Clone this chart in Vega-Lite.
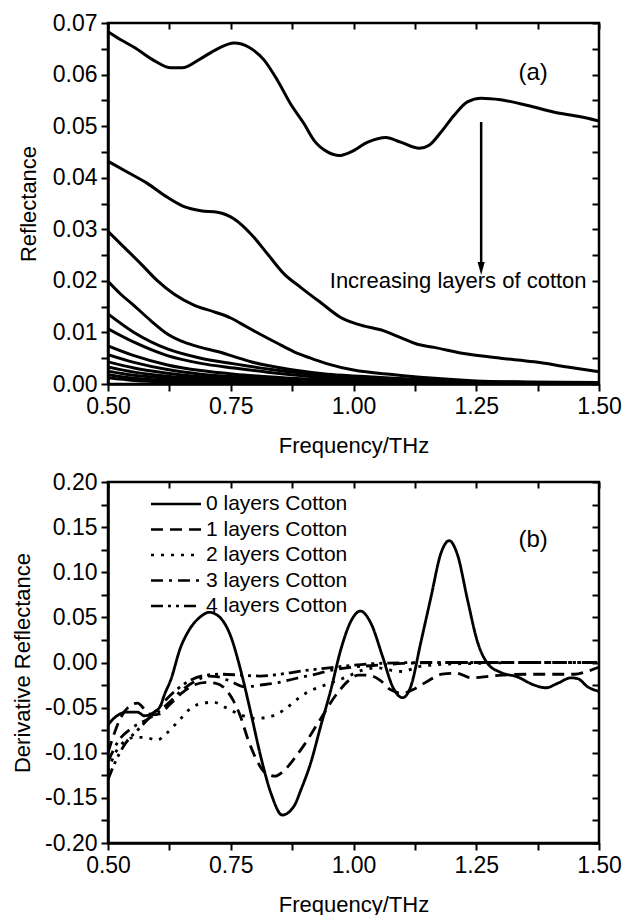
{
  "$schema": "https://vega.github.io/schema/vega-lite/v6.json",
  "background": "white",
  "padding": {"left": 10, "top": 10, "right": 22, "bottom": 4},
  "config": {
    "font": "Liberation Sans",
    "view": {"stroke": "black", "strokeWidth": 2.5},
    "axis": {
      "grid": false,
      "domainColor": "black",
      "domainWidth": 2.5,
      "tickColor": "black",
      "tickWidth": 2,
      "tickSize": 7,
      "labelColor": "black",
      "labelFontSize": 23,
      "labelPadding": 4,
      "labelFlush": false,
      "labelOverlap": false,
      "titleColor": "black",
      "titleFontSize": 22,
      "titleFontWeight": "normal"
    }
  },
  "datasets": {
    "reflectance": [
      {"n": 0, "f": 0.5, "R": 0.0683}, {"n": 0, "f": 0.525, "R": 0.0668}, {"n": 0, "f": 0.553, "R": 0.0653},
      {"n": 0, "f": 0.594, "R": 0.0627}, {"n": 0, "f": 0.628, "R": 0.0613}, {"n": 0, "f": 0.651, "R": 0.0613},
      {"n": 0, "f": 0.689, "R": 0.0631}, {"n": 0, "f": 0.723, "R": 0.065}, {"n": 0, "f": 0.757, "R": 0.0661},
      {"n": 0, "f": 0.787, "R": 0.0653}, {"n": 0, "f": 0.818, "R": 0.0628}, {"n": 0, "f": 0.845, "R": 0.0589},
      {"n": 0, "f": 0.872, "R": 0.0543}, {"n": 0, "f": 0.899, "R": 0.0505}, {"n": 0, "f": 0.92, "R": 0.0472},
      {"n": 0, "f": 0.947, "R": 0.045}, {"n": 0, "f": 0.971, "R": 0.0443}, {"n": 0, "f": 0.995, "R": 0.045},
      {"n": 0, "f": 1.029, "R": 0.0469}, {"n": 0, "f": 1.066, "R": 0.0478}, {"n": 0, "f": 1.096, "R": 0.0469},
      {"n": 0, "f": 1.134, "R": 0.0457}, {"n": 0, "f": 1.154, "R": 0.0463}, {"n": 0, "f": 1.178, "R": 0.0488},
      {"n": 0, "f": 1.205, "R": 0.0521}, {"n": 0, "f": 1.232, "R": 0.0547}, {"n": 0, "f": 1.26, "R": 0.0554},
      {"n": 0, "f": 1.3, "R": 0.0551}, {"n": 0, "f": 1.355, "R": 0.054}, {"n": 0, "f": 1.409, "R": 0.0527},
      {"n": 0, "f": 1.457, "R": 0.0519}, {"n": 0, "f": 1.5, "R": 0.051},

      {"n": 1, "f": 0.5, "R": 0.0432}, {"n": 1, "f": 0.539, "R": 0.0411}, {"n": 1, "f": 0.58, "R": 0.0389},
      {"n": 1, "f": 0.621, "R": 0.0362}, {"n": 1, "f": 0.655, "R": 0.0344}, {"n": 1, "f": 0.689, "R": 0.0336},
      {"n": 1, "f": 0.723, "R": 0.0333}, {"n": 1, "f": 0.757, "R": 0.032}, {"n": 1, "f": 0.791, "R": 0.0291},
      {"n": 1, "f": 0.825, "R": 0.0252}, {"n": 1, "f": 0.859, "R": 0.0213}, {"n": 1, "f": 0.893, "R": 0.0187},
      {"n": 1, "f": 0.933, "R": 0.0158}, {"n": 1, "f": 0.974, "R": 0.0129}, {"n": 1, "f": 1.008, "R": 0.0116},
      {"n": 1, "f": 1.062, "R": 0.0103}, {"n": 1, "f": 1.096, "R": 0.009}, {"n": 1, "f": 1.13, "R": 0.0077},
      {"n": 1, "f": 1.164, "R": 0.0071}, {"n": 1, "f": 1.232, "R": 0.0058}, {"n": 1, "f": 1.3, "R": 0.005},
      {"n": 1, "f": 1.368, "R": 0.0043}, {"n": 1, "f": 1.436, "R": 0.0033}, {"n": 1, "f": 1.5, "R": 0.0024},

      {"n": 2, "f": 0.5, "R": 0.0296}, {"n": 2, "f": 0.533, "R": 0.0265}, {"n": 2, "f": 0.567, "R": 0.0233},
      {"n": 2, "f": 0.601, "R": 0.02}, {"n": 2, "f": 0.635, "R": 0.0174}, {"n": 2, "f": 0.675, "R": 0.0153},
      {"n": 2, "f": 0.716, "R": 0.014}, {"n": 2, "f": 0.75, "R": 0.0128}, {"n": 2, "f": 0.784, "R": 0.011},
      {"n": 2, "f": 0.811, "R": 0.0096}, {"n": 2, "f": 0.845, "R": 0.0079}, {"n": 2, "f": 0.878, "R": 0.0063},
      {"n": 2, "f": 0.91, "R": 0.0051}, {"n": 2, "f": 0.947, "R": 0.0039}, {"n": 2, "f": 1.0, "R": 0.0027},
      {"n": 2, "f": 1.083, "R": 0.0018}, {"n": 2, "f": 1.15, "R": 0.0012}, {"n": 2, "f": 1.25, "R": 0.0006},
      {"n": 2, "f": 1.35, "R": 0.0004}, {"n": 2, "f": 1.5, "R": 0.0003},

      {"n": 3, "f": 0.5, "R": 0.0199}, {"n": 3, "f": 0.526, "R": 0.0174}, {"n": 3, "f": 0.553, "R": 0.0152},
      {"n": 3, "f": 0.587, "R": 0.0123}, {"n": 3, "f": 0.621, "R": 0.0097}, {"n": 3, "f": 0.655, "R": 0.0081},
      {"n": 3, "f": 0.689, "R": 0.0071}, {"n": 3, "f": 0.723, "R": 0.0063}, {"n": 3, "f": 0.757, "R": 0.0053},
      {"n": 3, "f": 0.791, "R": 0.0043}, {"n": 3, "f": 0.831, "R": 0.0035}, {"n": 3, "f": 0.878, "R": 0.0027},
      {"n": 3, "f": 0.947, "R": 0.0019}, {"n": 3, "f": 1.015, "R": 0.0015}, {"n": 3, "f": 1.083, "R": 0.0011},
      {"n": 3, "f": 1.15, "R": 0.0008}, {"n": 3, "f": 1.218, "R": 0.0005}, {"n": 3, "f": 1.354, "R": 0.0003},
      {"n": 3, "f": 1.5, "R": 0.0002},

      {"n": 4, "f": 0.5, "R": 0.0136}, {"n": 4, "f": 0.553, "R": 0.01}, {"n": 4, "f": 0.621, "R": 0.0068},
      {"n": 4, "f": 0.689, "R": 0.005}, {"n": 4, "f": 0.757, "R": 0.0039}, {"n": 4, "f": 0.825, "R": 0.0029},
      {"n": 4, "f": 1.0, "R": 0.0012}, {"n": 4, "f": 1.25, "R": 0.0004}, {"n": 4, "f": 1.5, "R": 0.0002},

      {"n": 5, "f": 0.5, "R": 0.0107}, {"n": 5, "f": 0.553, "R": 0.0081}, {"n": 5, "f": 0.621, "R": 0.0055},
      {"n": 5, "f": 0.689, "R": 0.004}, {"n": 5, "f": 0.757, "R": 0.0031}, {"n": 5, "f": 0.825, "R": 0.0023},
      {"n": 5, "f": 1.0, "R": 0.0009}, {"n": 5, "f": 1.25, "R": 0.0003}, {"n": 5, "f": 1.5, "R": 0.0001},

      {"n": 6, "f": 0.5, "R": 0.0074}, {"n": 6, "f": 0.553, "R": 0.0055}, {"n": 6, "f": 0.621, "R": 0.0037},
      {"n": 6, "f": 0.689, "R": 0.0026}, {"n": 6, "f": 0.757, "R": 0.0019}, {"n": 6, "f": 0.825, "R": 0.0014},
      {"n": 6, "f": 1.0, "R": 0.0006}, {"n": 6, "f": 1.25, "R": 0.0002}, {"n": 6, "f": 1.5, "R": 0.0001},

      {"n": 7, "f": 0.5, "R": 0.0057}, {"n": 7, "f": 0.553, "R": 0.0042}, {"n": 7, "f": 0.621, "R": 0.0028},
      {"n": 7, "f": 0.689, "R": 0.0019}, {"n": 7, "f": 0.757, "R": 0.0014}, {"n": 7, "f": 0.825, "R": 0.001},
      {"n": 7, "f": 1.0, "R": 0.0004}, {"n": 7, "f": 1.25, "R": 0.0002}, {"n": 7, "f": 1.5, "R": 0.0001},

      {"n": 8, "f": 0.5, "R": 0.0043}, {"n": 8, "f": 0.553, "R": 0.0031}, {"n": 8, "f": 0.621, "R": 0.0021},
      {"n": 8, "f": 0.689, "R": 0.0014}, {"n": 8, "f": 0.757, "R": 0.001}, {"n": 8, "f": 0.825, "R": 0.0007},
      {"n": 8, "f": 1.0, "R": 0.0003}, {"n": 8, "f": 1.25, "R": 0.0001}, {"n": 8, "f": 1.5, "R": 0.0},

      {"n": 9, "f": 0.5, "R": 0.0033}, {"n": 9, "f": 0.553, "R": 0.0023}, {"n": 9, "f": 0.621, "R": 0.0015},
      {"n": 9, "f": 0.689, "R": 0.001}, {"n": 9, "f": 0.757, "R": 0.0007}, {"n": 9, "f": 0.825, "R": 0.0005},
      {"n": 9, "f": 1.0, "R": 0.0002}, {"n": 9, "f": 1.25, "R": 0.0001}, {"n": 9, "f": 1.5, "R": 0.0},

      {"n": 10, "f": 0.5, "R": 0.0025}, {"n": 10, "f": 0.553, "R": 0.0017}, {"n": 10, "f": 0.621, "R": 0.0011},
      {"n": 10, "f": 0.689, "R": 0.0007}, {"n": 10, "f": 0.757, "R": 0.0005}, {"n": 10, "f": 0.825, "R": 0.0003},
      {"n": 10, "f": 1.0, "R": 0.0001}, {"n": 10, "f": 1.25, "R": 0.0}, {"n": 10, "f": 1.5, "R": 0.0},

      {"n": 11, "f": 0.5, "R": 0.0018}, {"n": 11, "f": 0.553, "R": 0.0011}, {"n": 11, "f": 0.621, "R": 0.0007},
      {"n": 11, "f": 0.689, "R": 0.0005}, {"n": 11, "f": 0.757, "R": 0.0003}, {"n": 11, "f": 0.825, "R": 0.0002},
      {"n": 11, "f": 1.0, "R": 0.0001}, {"n": 11, "f": 1.25, "R": 0.0}, {"n": 11, "f": 1.5, "R": 0.0},

      {"n": 12, "f": 0.5, "R": 0.0012}, {"n": 12, "f": 0.553, "R": 0.0007}, {"n": 12, "f": 0.621, "R": 0.0004},
      {"n": 12, "f": 0.689, "R": 0.0003}, {"n": 12, "f": 0.757, "R": 0.0002}, {"n": 12, "f": 0.825, "R": 0.0001},
      {"n": 12, "f": 1.0, "R": 0.0}, {"n": 12, "f": 1.25, "R": 0.0}, {"n": 12, "f": 1.5, "R": 0.0}
    ],
    "derivative": [
      {"series": "0 layers Cotton", "f": 0.5, "D": -0.069}, {"series": "0 layers Cotton", "f": 0.516, "D": -0.06},
      {"series": "0 layers Cotton", "f": 0.539, "D": -0.055}, {"series": "0 layers Cotton", "f": 0.56, "D": -0.055},
      {"series": "0 layers Cotton", "f": 0.574, "D": -0.059}, {"series": "0 layers Cotton", "f": 0.594, "D": -0.055},
      {"series": "0 layers Cotton", "f": 0.607, "D": -0.048}, {"series": "0 layers Cotton", "f": 0.614, "D": -0.037},
      {"series": "0 layers Cotton", "f": 0.628, "D": -0.019}, {"series": "0 layers Cotton", "f": 0.648, "D": 0.017},
      {"series": "0 layers Cotton", "f": 0.662, "D": 0.033}, {"series": "0 layers Cotton", "f": 0.689, "D": 0.051},
      {"series": "0 layers Cotton", "f": 0.706, "D": 0.0556}, {"series": "0 layers Cotton", "f": 0.726, "D": 0.051},
      {"series": "0 layers Cotton", "f": 0.75, "D": 0.029}, {"series": "0 layers Cotton", "f": 0.77, "D": -0.008},
      {"series": "0 layers Cotton", "f": 0.791, "D": -0.056}, {"series": "0 layers Cotton", "f": 0.811, "D": -0.104},
      {"series": "0 layers Cotton", "f": 0.832, "D": -0.145}, {"series": "0 layers Cotton", "f": 0.855, "D": -0.169},
      {"series": "0 layers Cotton", "f": 0.879, "D": -0.159}, {"series": "0 layers Cotton", "f": 0.893, "D": -0.141},
      {"series": "0 layers Cotton", "f": 0.913, "D": -0.111}, {"series": "0 layers Cotton", "f": 0.933, "D": -0.071},
      {"series": "0 layers Cotton", "f": 0.954, "D": -0.03}, {"series": "0 layers Cotton", "f": 0.974, "D": 0.014},
      {"series": "0 layers Cotton", "f": 0.995, "D": 0.046}, {"series": "0 layers Cotton", "f": 1.014, "D": 0.057},
      {"series": "0 layers Cotton", "f": 1.035, "D": 0.044}, {"series": "0 layers Cotton", "f": 1.059, "D": 0.007},
      {"series": "0 layers Cotton", "f": 1.079, "D": -0.026}, {"series": "0 layers Cotton", "f": 1.1, "D": -0.039},
      {"series": "0 layers Cotton", "f": 1.117, "D": -0.026}, {"series": "0 layers Cotton", "f": 1.137, "D": 0.022},
      {"series": "0 layers Cotton", "f": 1.158, "D": 0.073}, {"series": "0 layers Cotton", "f": 1.178, "D": 0.121},
      {"series": "0 layers Cotton", "f": 1.195, "D": 0.135}, {"series": "0 layers Cotton", "f": 1.212, "D": 0.119},
      {"series": "0 layers Cotton", "f": 1.232, "D": 0.07}, {"series": "0 layers Cotton", "f": 1.253, "D": 0.022},
      {"series": "0 layers Cotton", "f": 1.273, "D": -0.001}, {"series": "0 layers Cotton", "f": 1.3, "D": -0.011},
      {"series": "0 layers Cotton", "f": 1.334, "D": -0.016}, {"series": "0 layers Cotton", "f": 1.368, "D": -0.025},
      {"series": "0 layers Cotton", "f": 1.392, "D": -0.028}, {"series": "0 layers Cotton", "f": 1.416, "D": -0.023},
      {"series": "0 layers Cotton", "f": 1.443, "D": -0.017}, {"series": "0 layers Cotton", "f": 1.457, "D": -0.018},
      {"series": "0 layers Cotton", "f": 1.477, "D": -0.027}, {"series": "0 layers Cotton", "f": 1.5, "D": -0.032},

      {"series": "1 layers Cotton", "f": 0.5, "D": -0.1}, {"series": "1 layers Cotton", "f": 0.51, "D": -0.083},
      {"series": "1 layers Cotton", "f": 0.525, "D": -0.062}, {"series": "1 layers Cotton", "f": 0.545, "D": -0.048},
      {"series": "1 layers Cotton", "f": 0.56, "D": -0.045}, {"series": "1 layers Cotton", "f": 0.575, "D": -0.052},
      {"series": "1 layers Cotton", "f": 0.59, "D": -0.058}, {"series": "1 layers Cotton", "f": 0.605, "D": -0.057},
      {"series": "1 layers Cotton", "f": 0.625, "D": -0.047}, {"series": "1 layers Cotton", "f": 0.65, "D": -0.034},
      {"series": "1 layers Cotton", "f": 0.675, "D": -0.025}, {"series": "1 layers Cotton", "f": 0.7, "D": -0.022},
      {"series": "1 layers Cotton", "f": 0.72, "D": -0.023}, {"series": "1 layers Cotton", "f": 0.74, "D": -0.03},
      {"series": "1 layers Cotton", "f": 0.755, "D": -0.042}, {"series": "1 layers Cotton", "f": 0.77, "D": -0.06},
      {"series": "1 layers Cotton", "f": 0.785, "D": -0.085}, {"series": "1 layers Cotton", "f": 0.8, "D": -0.105},
      {"series": "1 layers Cotton", "f": 0.82, "D": -0.122}, {"series": "1 layers Cotton", "f": 0.84, "D": -0.126},
      {"series": "1 layers Cotton", "f": 0.86, "D": -0.119}, {"series": "1 layers Cotton", "f": 0.88, "D": -0.106},
      {"series": "1 layers Cotton", "f": 0.9, "D": -0.091}, {"series": "1 layers Cotton", "f": 0.93, "D": -0.065},
      {"series": "1 layers Cotton", "f": 0.967, "D": -0.034}, {"series": "1 layers Cotton", "f": 0.99, "D": -0.02},
      {"series": "1 layers Cotton", "f": 1.01, "D": -0.014}, {"series": "1 layers Cotton", "f": 1.03, "D": -0.014},
      {"series": "1 layers Cotton", "f": 1.055, "D": -0.02}, {"series": "1 layers Cotton", "f": 1.075, "D": -0.03},
      {"series": "1 layers Cotton", "f": 1.1, "D": -0.034}, {"series": "1 layers Cotton", "f": 1.125, "D": -0.029},
      {"series": "1 layers Cotton", "f": 1.15, "D": -0.021}, {"series": "1 layers Cotton", "f": 1.18, "D": -0.013},
      {"series": "1 layers Cotton", "f": 1.21, "D": -0.012}, {"series": "1 layers Cotton", "f": 1.24, "D": -0.017},
      {"series": "1 layers Cotton", "f": 1.28, "D": -0.015}, {"series": "1 layers Cotton", "f": 1.35, "D": -0.013},
      {"series": "1 layers Cotton", "f": 1.45, "D": -0.013}, {"series": "1 layers Cotton", "f": 1.475, "D": -0.01},
      {"series": "1 layers Cotton", "f": 1.5, "D": -0.005},

      {"series": "2 layers Cotton", "f": 0.5, "D": -0.12}, {"series": "2 layers Cotton", "f": 0.515, "D": -0.1},
      {"series": "2 layers Cotton", "f": 0.535, "D": -0.087}, {"series": "2 layers Cotton", "f": 0.555, "D": -0.083},
      {"series": "2 layers Cotton", "f": 0.575, "D": -0.083}, {"series": "2 layers Cotton", "f": 0.6, "D": -0.086},
      {"series": "2 layers Cotton", "f": 0.62, "D": -0.078}, {"series": "2 layers Cotton", "f": 0.645, "D": -0.064},
      {"series": "2 layers Cotton", "f": 0.67, "D": -0.05}, {"series": "2 layers Cotton", "f": 0.695, "D": -0.045},
      {"series": "2 layers Cotton", "f": 0.715, "D": -0.044}, {"series": "2 layers Cotton", "f": 0.74, "D": -0.05},
      {"series": "2 layers Cotton", "f": 0.77, "D": -0.058}, {"series": "2 layers Cotton", "f": 0.8, "D": -0.062},
      {"series": "2 layers Cotton", "f": 0.83, "D": -0.06}, {"series": "2 layers Cotton", "f": 0.86, "D": -0.052},
      {"series": "2 layers Cotton", "f": 0.88, "D": -0.043}, {"series": "2 layers Cotton", "f": 0.906, "D": -0.033},
      {"series": "2 layers Cotton", "f": 0.937, "D": -0.026}, {"series": "2 layers Cotton", "f": 0.967, "D": -0.02},
      {"series": "2 layers Cotton", "f": 0.99, "D": -0.015}, {"series": "2 layers Cotton", "f": 1.015, "D": -0.009},
      {"series": "2 layers Cotton", "f": 1.05, "D": -0.006}, {"series": "2 layers Cotton", "f": 1.08, "D": -0.009},
      {"series": "2 layers Cotton", "f": 1.1, "D": -0.01}, {"series": "2 layers Cotton", "f": 1.13, "D": -0.005},
      {"series": "2 layers Cotton", "f": 1.18, "D": -0.002}, {"series": "2 layers Cotton", "f": 1.25, "D": -0.001},
      {"series": "2 layers Cotton", "f": 1.35, "D": 0.0}, {"series": "2 layers Cotton", "f": 1.5, "D": 0.0},

      {"series": "3 layers Cotton", "f": 0.5, "D": -0.11}, {"series": "3 layers Cotton", "f": 0.52, "D": -0.088},
      {"series": "3 layers Cotton", "f": 0.55, "D": -0.072}, {"series": "3 layers Cotton", "f": 0.58, "D": -0.063},
      {"series": "3 layers Cotton", "f": 0.6, "D": -0.056}, {"series": "3 layers Cotton", "f": 0.625, "D": -0.044},
      {"series": "3 layers Cotton", "f": 0.65, "D": -0.031}, {"series": "3 layers Cotton", "f": 0.68, "D": -0.02},
      {"series": "3 layers Cotton", "f": 0.705, "D": -0.015}, {"series": "3 layers Cotton", "f": 0.725, "D": -0.016},
      {"series": "3 layers Cotton", "f": 0.75, "D": -0.021}, {"series": "3 layers Cotton", "f": 0.78, "D": -0.027},
      {"series": "3 layers Cotton", "f": 0.81, "D": -0.025}, {"series": "3 layers Cotton", "f": 0.84, "D": -0.023},
      {"series": "3 layers Cotton", "f": 0.88, "D": -0.018}, {"series": "3 layers Cotton", "f": 0.93, "D": -0.012},
      {"series": "3 layers Cotton", "f": 0.96, "D": -0.008}, {"series": "3 layers Cotton", "f": 1.0, "D": -0.005},
      {"series": "3 layers Cotton", "f": 1.05, "D": -0.003}, {"series": "3 layers Cotton", "f": 1.1, "D": -0.001},
      {"series": "3 layers Cotton", "f": 1.2, "D": 0.0}, {"series": "3 layers Cotton", "f": 1.5, "D": 0.0},

      {"series": "4 layers Cotton", "f": 0.5, "D": -0.13}, {"series": "4 layers Cotton", "f": 0.515, "D": -0.11},
      {"series": "4 layers Cotton", "f": 0.535, "D": -0.09}, {"series": "4 layers Cotton", "f": 0.56, "D": -0.075},
      {"series": "4 layers Cotton", "f": 0.59, "D": -0.058}, {"series": "4 layers Cotton", "f": 0.615, "D": -0.043},
      {"series": "4 layers Cotton", "f": 0.64, "D": -0.03}, {"series": "4 layers Cotton", "f": 0.67, "D": -0.019},
      {"series": "4 layers Cotton", "f": 0.7, "D": -0.014}, {"series": "4 layers Cotton", "f": 0.73, "D": -0.013},
      {"series": "4 layers Cotton", "f": 0.77, "D": -0.014}, {"series": "4 layers Cotton", "f": 0.81, "D": -0.015},
      {"series": "4 layers Cotton", "f": 0.85, "D": -0.013}, {"series": "4 layers Cotton", "f": 0.9, "D": -0.009},
      {"series": "4 layers Cotton", "f": 0.95, "D": -0.006}, {"series": "4 layers Cotton", "f": 1.0, "D": -0.003},
      {"series": "4 layers Cotton", "f": 1.05, "D": -0.001}, {"series": "4 layers Cotton", "f": 1.15, "D": 0.0},
      {"series": "4 layers Cotton", "f": 1.5, "D": 0.0}
    ]
  },
  "spacing": 11,
  "resolve": {"legend": {"strokeDash": "independent"}},
  "vconcat": [
    {
      "width": 491,
      "height": 361,
      "layer": [
        {
          "data": {"name": "reflectance"},
          "mark": {"type": "line", "interpolate": "monotone", "stroke": "black", "strokeWidth": 3, "clip": true},
          "encoding": {
            "x": {
              "field": "f", "type": "quantitative",
              "scale": {"domain": [0.5, 1.5], "nice": false, "zero": false},
              "axis": {
                "orient": "bottom", "title": "Frequency/THz", "titlePadding": 17,
                "values": [0.5, 0.625, 0.75, 0.875, 1, 1.125, 1.25, 1.375, 1.5],
                "labelExpr": "abs(datum.value*4 - round(datum.value*4)) < 0.001 ? format(datum.value, '.2f') : ''"
              }
            },
            "y": {
              "field": "R", "type": "quantitative",
              "scale": {"domain": [0, 0.07], "nice": false, "zero": false},
              "axis": {
                "orient": "left", "title": "Reflectance", "titlePadding": 12,
                "values": [0, 0.005, 0.01, 0.015, 0.02, 0.025, 0.03, 0.035, 0.04, 0.045, 0.05, 0.055, 0.06, 0.065, 0.07],
                "labelExpr": "abs(datum.value*100 - round(datum.value*100)) < 0.001 ? format(datum.value, '.2f') : ''"
              }
            },
            "detail": {"field": "n", "type": "nominal"}
          }
        },
        {
          "data": {"values": [{"f": 1.26, "top": 0.0508, "bottom": 0.0232}]},
          "mark": {"type": "rule", "stroke": "black", "strokeWidth": 2.5},
          "encoding": {
            "x": {"field": "f", "type": "quantitative", "axis": null},
            "y": {"field": "top", "type": "quantitative", "axis": null},
            "y2": {"field": "bottom"}
          }
        },
        {
          "data": {"values": [{"f": 1.26, "tip": 0.0224}]},
          "mark": {"type": "point", "shape": "M-0.55,-1L0.55,-1L0,1Z", "size": 170, "filled": true, "fill": "black", "stroke": null, "opacity": 1},
          "encoding": {
            "x": {"field": "f", "type": "quantitative", "axis": null},
            "y": {"field": "tip", "type": "quantitative", "axis": null}
          }
        },
        {
          "data": {"values": [{"f": 1.2132, "R": 0.0186, "label": "Increasing layers of cotton"}]},
          "mark": {"type": "text", "fontSize": 22, "align": "center", "baseline": "alphabetic", "color": "black"},
          "encoding": {
            "x": {"field": "f", "type": "quantitative", "axis": null},
            "y": {"field": "R", "type": "quantitative", "axis": null},
            "text": {"field": "label"}
          }
        },
        {
          "data": {"values": [{"f": 1.366, "R": 0.0589, "label": "(a)"}]},
          "mark": {"type": "text", "fontSize": 24, "align": "center", "baseline": "alphabetic", "color": "black"},
          "encoding": {
            "x": {
              "field": "f", "type": "quantitative",
              "axis": {"orient": "top", "title": null, "labels": false, "domain": false, "tickSize": -6,
                       "values": [0.5, 0.625, 0.75, 0.875, 1, 1.125, 1.25, 1.375, 1.5]}
            },
            "y": {
              "field": "R", "type": "quantitative",
              "axis": {"orient": "right", "title": null, "labels": false, "domain": false, "tickSize": -7,
                       "values": [0, 0.005, 0.01, 0.015, 0.02, 0.025, 0.03, 0.035, 0.04, 0.045, 0.05, 0.055, 0.06, 0.065, 0.07]}
            },
            "text": {"field": "label"}
          }
        }
      ],
      "resolve": {"axis": {"x": "independent", "y": "independent"}}
    },
    {
      "width": 491,
      "height": 361,
      "layer": [
        {
          "data": {"name": "derivative"},
          "mark": {"type": "line", "interpolate": "monotone", "stroke": "black", "strokeWidth": 2.8, "clip": true},
          "encoding": {
            "x": {
              "field": "f", "type": "quantitative",
              "scale": {"domain": [0.5, 1.5], "nice": false, "zero": false},
              "axis": {
                "orient": "bottom", "title": "Frequency/THz", "titlePadding": 17,
                "values": [0.5, 0.625, 0.75, 0.875, 1, 1.125, 1.25, 1.375, 1.5],
                "labelExpr": "abs(datum.value*4 - round(datum.value*4)) < 0.001 ? format(datum.value, '.2f') : ''"
              }
            },
            "y": {
              "field": "D", "type": "quantitative",
              "scale": {"domain": [-0.2, 0.2], "nice": false, "zero": false},
              "axis": {
                "orient": "left", "title": "Derivative Reflectance", "titlePadding": 10,
                "values": [-0.2, -0.175, -0.15, -0.125, -0.1, -0.075, -0.05, -0.025, 0, 0.025, 0.05, 0.075, 0.1, 0.125, 0.15, 0.175, 0.2],
                "labelExpr": "abs(datum.value*20 - round(datum.value*20)) < 0.001 ? replace(format(datum.value, '.2f'), '\u2212', '-') : ''"
              }
            },
            "strokeDash": {
              "field": "series", "type": "nominal",
              "scale": {
                "domain": ["0 layers Cotton", "1 layers Cotton", "2 layers Cotton", "3 layers Cotton", "4 layers Cotton"],
                "range": [[1, 0], [12, 7], [3, 7], [12, 6, 3, 6], [12, 5, 3, 5, 3, 5]]
              },
              "legend": {
                "title": null, "orient": "none", "legendX": 54, "legendY": 8,
                "symbolType": "M-2,0H2", "symbolSize": 625, "symbolStrokeWidth": 2.5, "symbolStrokeColor": "black",
                "labelFontSize": 21, "labelColor": "black", "labelOffset": 16, "rowPadding": 1.5
              }
            }
          }
        },
        {
          "data": {"values": [{"f": 1.366, "D": 0.1283, "label": "(b)"}]},
          "mark": {"type": "text", "fontSize": 24, "align": "center", "baseline": "alphabetic", "color": "black"},
          "encoding": {
            "x": {
              "field": "f", "type": "quantitative",
              "axis": {"orient": "top", "title": null, "labels": false, "domain": false, "tickSize": -6,
                       "values": [0.5, 0.625, 0.75, 0.875, 1, 1.125, 1.25, 1.375, 1.5]}
            },
            "y": {
              "field": "D", "type": "quantitative",
              "axis": {"orient": "right", "title": null, "labels": false, "domain": false, "tickSize": -7,
                       "values": [-0.2, -0.175, -0.15, -0.125, -0.1, -0.075, -0.05, -0.025, 0, 0.025, 0.05, 0.075, 0.1, 0.125, 0.15, 0.175, 0.2]}
            },
            "text": {"field": "label"}
          }
        }
      ],
      "resolve": {"axis": {"x": "independent", "y": "independent"}}
    }
  ]
}
